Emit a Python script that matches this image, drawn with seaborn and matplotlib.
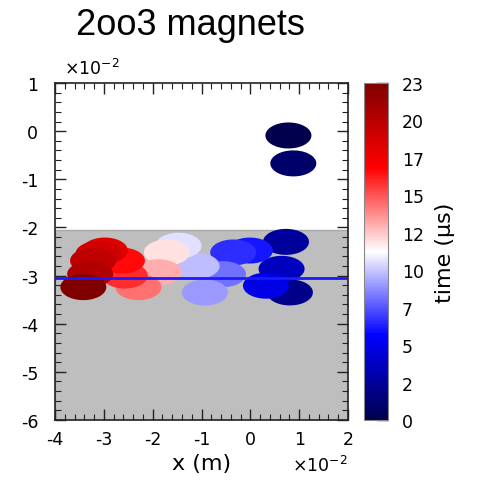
import numpy as np
import pandas as pd
import matplotlib
matplotlib.use("Agg")
import matplotlib.pyplot as plt
import matplotlib.ticker as mticker
from matplotlib.path import Path
from matplotlib.cm import ScalarMappable
from matplotlib.colors import Normalize
import seaborn as sns

# ---- data (metres, microseconds) ----
x_pos = [0.0078, 0.0088, 0.0081, 0.0073, 0.0064, 0.0032, -0.0001, -0.0035,
         -0.0056, -0.0093, -0.0110, -0.0147, -0.0171, -0.0188, -0.0229,
         -0.0257, -0.0263, -0.0298, -0.0311, -0.0322, -0.0328, -0.0342]
y_pos = [-0.0009, -0.0067, -0.0335, -0.0230, -0.0286, -0.0321, -0.0248, -0.0252,
         -0.0297, -0.0335, -0.0280, -0.0238, -0.0252, -0.0293, -0.0324,
         -0.0300, -0.0269, -0.0248, -0.0255, -0.0269, -0.0297, -0.0324]
t_us = [0.0, 1.0, 2.0, 2.6, 3.7, 5.0, 6.2, 6.8, 8.3, 9.2, 10.0, 10.8, 12.2,
        13.3, 14.7, 16.2, 17.0, 18.6, 19.4, 20.1, 20.8, 23.0]
t_max = 23
shade_top = -0.0205
ref_line_y = -0.0305
cbar_ticks = np.linspace(0, 23, 10)
cbar_labels = [str(int(v)) for v in cbar_ticks]

df = pd.DataFrame({"x": x_pos, "y": y_pos, "t": t_us})

sns.set_style("ticks")
plt.rcParams["font.family"] = ["DejaVu Sans"]
plt.rcParams["axes.unicode_minus"] = False
plt.rcParams["text.color"] = "black"
plt.rcParams["axes.labelcolor"] = "black"
plt.rcParams["xtick.labelcolor"] = "black"
plt.rcParams["ytick.labelcolor"] = "black"

fig = plt.figure(figsize=(4.79, 4.85), dpi=100)
ax = fig.add_axes([55/479, 1-421/485, 293/479, 337/485])
cax = fig.add_axes([364/479, 1-421/485, 24/479, 337/485])

ax.set_xlim(-0.04, 0.02)
ax.set_ylim(-0.06, 0.01)
ax.axhspan(-0.06, shade_top, facecolor="#bebebe", edgecolor="#a8a8a8", lw=1, zorder=0)

th = np.linspace(0, 2*np.pi, 120)
ell = Path(np.column_stack([np.cos(th), 0.565*np.sin(th)]), closed=True)

sns.scatterplot(data=df, x="x", y="y", hue="t", palette="seismic",
                hue_norm=(0, t_max), marker=ell, s=1097, linewidth=0,
                legend=False, ax=ax, zorder=2)
ax.axhline(ref_line_y, color="#1a1aff", lw=2, zorder=3)

scale_fmt = mticker.FuncFormatter(lambda v, p: "%d" % round(v * 100))
ax.xaxis.set_major_formatter(scale_fmt)
ax.yaxis.set_major_formatter(scale_fmt)
ax.xaxis.set_major_locator(mticker.MultipleLocator(0.01))
ax.yaxis.set_major_locator(mticker.MultipleLocator(0.01))
ax.xaxis.set_minor_locator(mticker.AutoMinorLocator(5))
ax.yaxis.set_minor_locator(mticker.AutoMinorLocator(5))
ax.tick_params(which="both", direction="in", top=True, right=True, color="#222222")
ax.tick_params(which="major", length=8, width=1, labelsize=12.5)
ax.tick_params(axis="y", which="major", pad=12)
ax.tick_params(axis="x", which="major", pad=7)
ax.tick_params(which="minor", length=4, width=0.8)
ax.text(0.03, 1.015, r"×10$^{-2}$", transform=ax.transAxes, ha="left", va="bottom", fontsize=12.5)
ax.text(1.0, -0.105, r"×10$^{-2}$", transform=ax.transAxes, ha="right", va="top", fontsize=12.5)
for sp in ax.spines.values():
    sp.set_color("#222222")
    sp.set_linewidth(1.2)
ax.set_xlabel("x (m)", fontsize=16, labelpad=4)
ax.set_ylabel("")

sm = ScalarMappable(norm=Normalize(0, t_max), cmap="seismic")
cb = fig.colorbar(sm, cax=cax)
cb.set_ticks(cbar_ticks)
cb.set_ticklabels(cbar_labels)
cb.ax.tick_params(direction="in", length=8, width=1, labelsize=12.5, pad=10, color="#222222")
cb.outline.set_edgecolor("#888888")
cb.set_label("time (μs)", fontsize=16, labelpad=8)

fig.text(190/479, 1-35/485, "2oo3 magnets", ha="center", va="baseline",
         fontsize=26, family="Liberation Sans", color="black")

fig.savefig("out.png", dpi=100)
